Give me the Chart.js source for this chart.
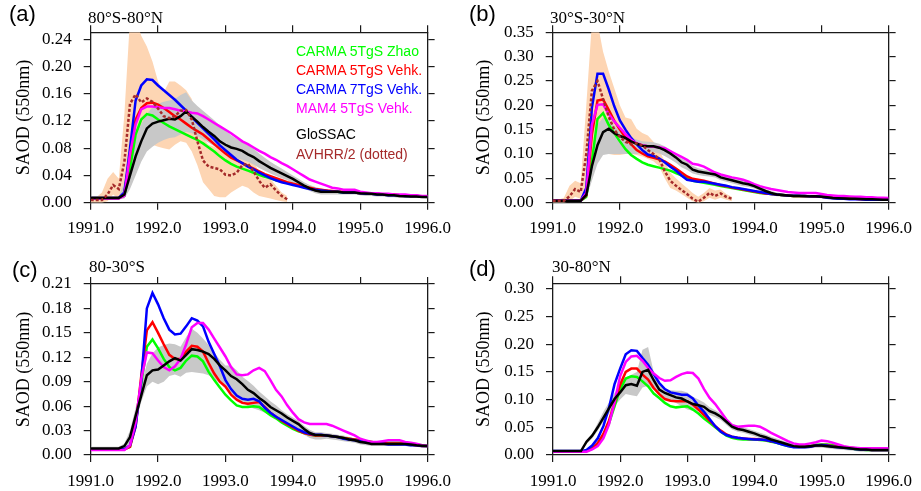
<!DOCTYPE html>
<html lang="en">
<head>
  <meta charset="UTF-8">
  <title>SAOD (550nm) 1991-1996</title>
  <script src="https://cdn.jsdelivr.net/npm/chart.js"></script>
  <style>
    body {
      margin: 0;
      background: #fff;
    }
    .page {
      position: relative;
      width: 921px;
      height: 491px;
      overflow: hidden;
    }
    .panel {
      position: absolute;
    }
    .tag {
      position: absolute;
      font: 22px "Liberation Sans", Arial, sans-serif;
      line-height: 22px;
      color: #000;
    }
    .region {
      position: absolute;
      font: 17px "Liberation Serif", "Times New Roman", serif;
      line-height: 17px;
      color: #000;
    }
    .legend {
      position: absolute;
      left: 296px;
      top: 0;
      font: 14px "Liberation Sans", Arial, sans-serif;
      line-height: 18px;
    }
    .legend div {
      position: absolute;
      white-space: nowrap;
    }
  </style>
</head>
<body>
  <div class="page">
    <div class="panel" style="left:0;top:0;width:460px;height:245px"><canvas id="ca" width="460" height="245"></canvas></div>
    <div class="panel" style="left:460px;top:0;width:461px;height:245px"><canvas id="cb" width="461" height="245"></canvas></div>
    <div class="panel" style="left:0;top:245px;width:460px;height:246px"><canvas id="cc" width="460" height="246"></canvas></div>
    <div class="panel" style="left:460px;top:245px;width:461px;height:246px"><canvas id="cd" width="461" height="246"></canvas></div>

    <div class="tag" style="left:9px;top:3px">(a)</div>
    <div class="region" style="left:88px;top:9px">80°S-80°N</div>
    <div class="tag" style="left:469px;top:3px">(b)</div>
    <div class="region" style="left:550px;top:9px">30°S-30°N</div>
    <div class="tag" style="left:12px;top:259px">(c)</div>
    <div class="region" style="left:89px;top:258px">80-30°S</div>
    <div class="tag" style="left:469px;top:258px">(d)</div>
    <div class="region" style="left:552px;top:258px">30-80°N</div>

    <div class="legend">
      <div style="top:42px;color:#00ff00">CARMA 5TgS Zhao</div>
      <div style="top:61px;color:#ff0000">CARMA 5TgS Vehk.</div>
      <div style="top:80px;color:#0000ff">CARMA 7TgS Vehk.</div>
      <div style="top:99px;color:#ff00ff">MAM4 5TgS Vehk.</div>
      <div style="top:125px;color:#000000">GloSSAC</div>
      <div style="top:145px;color:#a52a2a">AVHRR/2 (dotted)</div>
    </div>
  </div>

  <script>
    // monthly time axis, Jan 1991 .. Jan 1996
    const months = [];
    for (let i = 0; i <= 60; i++) months.push(1991 + i / 12);

    // ---- (a) 80S-80N ----
    const aGreen = [0.007,0.007,0.007,0.007,0.007,0.007,
      0.010,0.050,0.100,0.122,0.130,0.128,0.122,0.117,0.112,0.108,
      0.104,0.100,0.096,0.092,0.087,0.081,0.075,0.068,0.062,0.057,
      0.053,0.050,0.047,0.044,0.041,0.038,0.036,0.033,0.031,0.029,
      0.027,0.025,0.023,0.021,0.019,0.018,0.017,0.016,0.016,0.015,
      0.015,0.015,0.014,0.014,0.013,0.013,0.012,0.012,0.012,0.011,
      0.011,0.010,0.010,0.009,0.009];
    const aRed = [0.007,0.007,0.007,0.007,0.007,0.007,
      0.014,0.070,0.122,0.139,0.146,0.147,0.144,0.139,0.133,0.127,
      0.122,0.116,0.110,0.105,0.100,0.093,0.086,0.079,0.072,0.066,
      0.062,0.058,0.054,0.050,0.046,0.042,0.039,0.036,0.033,0.030,
      0.028,0.026,0.024,0.022,0.020,0.019,0.018,0.017,0.016,0.016,
      0.015,0.015,0.014,0.014,0.013,0.013,0.012,0.012,0.012,0.011,
      0.011,0.010,0.010,0.009,0.009];
    const aBlue = [0.007,0.007,0.007,0.007,0.007,0.007,
      0.015,0.080,0.150,0.172,0.181,0.180,0.172,0.165,0.158,0.151,
      0.143,0.135,0.126,0.117,0.109,0.101,0.093,0.084,0.077,0.070,
      0.063,0.058,0.053,0.049,0.044,0.040,0.036,0.033,0.030,0.028,
      0.026,0.024,0.022,0.020,0.019,0.018,0.017,0.016,0.016,0.015,
      0.015,0.015,0.014,0.013,0.013,0.012,0.012,0.011,0.011,0.011,
      0.010,0.010,0.010,0.009,0.009];
    const aMagenta = [0.006,0.006,0.006,0.006,0.006,0.006,
      0.010,0.072,0.115,0.137,0.141,0.141,0.140,0.139,0.139,0.137,
      0.135,0.134,0.132,0.131,0.127,0.122,0.117,0.112,0.107,0.102,
      0.096,0.090,0.086,0.081,0.076,0.072,0.067,0.063,0.058,0.054,
      0.049,0.044,0.039,0.034,0.031,0.028,0.025,0.022,0.021,0.019,
      0.019,0.019,0.016,0.015,0.014,0.014,0.013,0.013,0.012,0.012,
      0.012,0.011,0.011,0.010,0.010];
    const aBlack = [0.007,0.007,0.007,0.007,0.007,0.007,
      0.012,0.040,0.068,0.090,0.109,0.116,0.119,0.121,0.123,0.122,
      0.127,0.134,0.126,0.119,0.111,0.104,0.098,0.090,0.085,0.081,
      0.079,0.076,0.071,0.067,0.061,0.056,0.051,0.047,0.043,0.039,
      0.035,0.030,0.025,0.021,0.018,0.016,0.016,0.016,0.016,0.015,
      0.015,0.015,0.014,0.0135,0.013,0.012,0.012,0.011,0.011,0.010,
      0.0095,0.009,0.009,0.0085,0.0083];
    const aGrayHi = [0.009,0.009,0.009,0.009,0.009,0.009,
      0.030,0.065,0.095,0.115,0.130,0.140,0.145,0.148,0.150,0.152,
      0.158,0.162,0.150,0.142,0.135,0.128,0.121,0.113,0.106,0.099,
      0.094,0.089,0.085,0.079,0.072,0.066,0.060,0.055,0.050,0.045,
      0.040,0.035,0.030,0.026,0.023,0.021,0.019,0.018,0.018,0.018,
      0.018,0.018,0.016,0.015,0.014,0.014,0.014,0.013,0.012,0.012,
      0.012,0.012,0.011,0.011,0.011];
    const aGrayLo = [0.005,0.005,0.005,0.005,0.005,0.005,
      0.006,0.020,0.040,0.060,0.075,0.082,0.088,0.092,0.095,0.096,
      0.100,0.104,0.102,0.098,0.093,0.088,0.083,0.077,0.071,0.066,
      0.065,0.063,0.060,0.056,0.051,0.047,0.043,0.039,0.036,0.033,
      0.029,0.025,0.021,0.017,0.014,0.012,0.012,0.012,0.012,0.012,
      0.012,0.012,0.011,0.010,0.010,0.009,0.009,0.008,0.008,0.007,
      0.007,0.007,0.007,0.007,0.006];
    const aAvhrr = [0.004,0.004,0.004,0.012,0.026,0.020,0.060,0.145,0.159,0.147,
      0.153,0.148,0.138,0.127,0.124,0.127,0.135,0.136,0.122,0.090,
      0.062,0.053,0.051,0.049,0.041,0.040,0.044,0.055,0.057,0.046,
      0.032,0.022,0.027,0.018,0.010,0.005];
    const aAvhrrHi = [0.006,0.008,0.015,0.035,0.045,0.035,0.130,0.270,0.270,0.245,
      0.229,0.207,0.178,0.162,0.178,0.178,0.172,0.165,0.152,0.125,
      0.095,0.085,0.082,0.078,0.070,0.065,0.070,0.075,0.070,0.060,
      0.045,0.035,0.035,0.025,0.015,0.010];
    const aAvhrrLo = [0.000,0.000,0.000,0.002,0.012,0.005,0.015,0.040,0.070,0.085,
      0.087,0.085,0.082,0.080,0.078,0.085,0.090,0.088,0.075,0.055,
      0.030,0.020,0.010,0.008,0.008,0.015,0.020,0.025,0.022,0.015,
      0.010,0.008,0.006,0.004,0.002,0.001];

    // ---- (b) 30S-30N ----
    const bGreen = [0.004,0.004,0.004,0.004,0.004,0.004,
      0.012,0.085,0.172,0.184,0.160,0.143,0.126,0.110,0.098,0.090,
      0.083,0.078,0.075,0.072,0.069,0.066,0.061,0.056,0.051,0.045,
      0.043,0.041,0.039,0.037,0.034,0.032,0.030,0.028,0.026,0.024,
      0.022,0.020,0.019,0.018,0.017,0.016,0.015,0.014,0.014,0.013,
      0.013,0.012,0.012,0.012,0.011,0.010,0.009,0.009,0.008,0.008,
      0.007,0.007,0.007,0.006,0.006];
    const bRed = [0.004,0.004,0.004,0.004,0.004,0.004,
      0.015,0.140,0.210,0.212,0.191,0.168,0.150,0.134,0.120,0.108,
      0.101,0.095,0.092,0.089,0.085,0.078,0.070,0.062,0.054,0.049,
      0.047,0.045,0.042,0.039,0.036,0.034,0.031,0.029,0.027,0.025,
      0.023,0.021,0.019,0.018,0.017,0.016,0.015,0.014,0.014,0.013,
      0.013,0.012,0.012,0.011,0.010,0.009,0.009,0.008,0.008,0.007,
      0.007,0.007,0.006,0.006,0.006];
    const bBlue = [0.004,0.004,0.004,0.004,0.004,0.004,
      0.030,0.195,0.265,0.265,0.233,0.198,0.169,0.150,0.133,0.120,
      0.108,0.099,0.096,0.091,0.083,0.074,0.066,0.056,0.047,0.045,
      0.043,0.043,0.041,0.039,0.037,0.035,0.032,0.030,0.028,0.026,
      0.024,0.022,0.020,0.018,0.017,0.016,0.015,0.0145,0.0145,0.014,
      0.013,0.013,0.012,0.010,0.009,0.008,0.008,0.007,0.007,0.007,
      0.006,0.006,0.006,0.006,0.006];
    const bMagenta = [0.004,0.004,0.004,0.004,0.004,0.004,
      0.020,0.160,0.201,0.202,0.182,0.167,0.154,0.141,0.129,0.122,
      0.118,0.116,0.115,0.114,0.112,0.106,0.100,0.094,0.088,0.080,
      0.078,0.074,0.068,0.062,0.058,0.055,0.052,0.050,0.047,0.043,
      0.038,0.034,0.031,0.028,0.026,0.024,0.022,0.021,0.020,0.020,
      0.020,0.020,0.018,0.016,0.015,0.014,0.014,0.013,0.012,0.012,
      0.011,0.011,0.010,0.010,0.0095];
    const bBlack = [0.004,0.004,0.004,0.004,0.004,0.004,
      0.016,0.075,0.118,0.145,0.152,0.143,0.137,0.133,0.126,0.121,
      0.117,0.116,0.116,0.113,0.108,0.101,0.093,0.083,0.078,0.068,
      0.064,0.062,0.060,0.058,0.052,0.049,0.046,0.043,0.040,0.038,
      0.034,0.029,0.024,0.020,0.017,0.016,0.015,0.014,0.014,0.014,
      0.013,0.013,0.012,0.011,0.0096,0.009,0.0085,0.008,0.008,0.0075,
      0.007,0.007,0.0065,0.006,0.006];
    const bGrayHi = [0.006,0.006,0.006,0.006,0.006,0.006,
      0.025,0.100,0.160,0.175,0.172,0.158,0.148,0.140,0.134,0.130,
      0.126,0.125,0.124,0.121,0.116,0.109,0.100,0.091,0.085,0.076,
      0.071,0.068,0.066,0.064,0.058,0.055,0.052,0.049,0.046,0.043,
      0.039,0.034,0.028,0.024,0.021,0.019,0.018,0.017,0.017,0.017,
      0.016,0.016,0.015,0.014,0.012,0.011,0.011,0.010,0.010,0.010,
      0.009,0.009,0.009,0.009,0.009];
    const bGrayLo = [0.003,0.003,0.003,0.003,0.003,0.003,
      0.008,0.045,0.080,0.098,0.100,0.100,0.100,0.100,0.100,0.100,
      0.102,0.104,0.104,0.101,0.096,0.089,0.082,0.073,0.067,0.060,
      0.057,0.055,0.054,0.052,0.046,0.043,0.040,0.037,0.034,0.032,
      0.029,0.024,0.020,0.016,0.013,0.012,0.012,0.011,0.011,0.011,
      0.010,0.010,0.009,0.008,0.007,0.007,0.006,0.006,0.006,0.005,
      0.005,0.005,0.004,0.004,0.004];
    const bAvhrr = [0.004,0.004,0.004,0.013,0.028,0.022,0.100,0.230,0.250,0.213,
      0.177,0.150,0.135,0.125,0.120,0.122,0.118,0.108,0.100,0.090,
      0.065,0.045,0.035,0.026,0.018,0.008,0.002,0.010,0.020,0.014,
      0.019,0.012,0.008];
    const bAvhrrHi = [0.005,0.006,0.010,0.035,0.045,0.040,0.200,0.370,0.370,0.310,
      0.270,0.235,0.200,0.175,0.172,0.152,0.143,0.138,0.125,0.108,
      0.085,0.062,0.050,0.040,0.030,0.020,0.012,0.020,0.030,0.025,
      0.027,0.018,0.012];
    const bAvhrrLo = [0.000,0.000,0.000,0.003,0.012,0.008,0.030,0.080,0.100,0.100,
      0.100,0.098,0.098,0.100,0.100,0.098,0.095,0.090,0.085,0.075,
      0.050,0.030,0.025,0.018,0.010,0.003,0.000,0.003,0.010,0.006,
      0.010,0.006,0.003];

    // ---- (c) 80-30S ----
    const cGreen = [0.007,0.007,0.007,0.007,0.007,0.007,0.007,
      0.010,0.040,0.087,0.133,0.142,0.131,0.118,0.108,0.104,
      0.107,0.116,0.122,0.121,0.115,0.102,0.092,0.083,0.074,0.067,
      0.061,0.059,0.059,0.060,0.059,0.054,0.049,0.045,0.040,0.036,
      0.032,0.029,0.027,0.025,0.024,0.024,0.024,0.023,0.022,0.021,
      0.020,0.019,0.018,0.017,0.016,0.015,0.015,0.015,0.015,0.015,
      0.015,0.014,0.013,0.012,0.011];
    const cRed = [0.007,0.007,0.007,0.007,0.007,0.007,0.007,
      0.010,0.035,0.097,0.153,0.163,0.150,0.136,0.123,0.118,
      0.118,0.127,0.134,0.133,0.127,0.113,0.100,0.090,0.084,0.074,
      0.068,0.064,0.063,0.064,0.065,0.059,0.052,0.047,0.042,0.038,
      0.034,0.030,0.027,0.025,0.024,0.024,0.024,0.023,0.022,0.021,
      0.020,0.019,0.018,0.017,0.016,0.015,0.015,0.014,0.014,0.014,
      0.014,0.013,0.012,0.011,0.011];
    const cBlue = [0.007,0.007,0.007,0.007,0.007,0.007,0.007,
      0.012,0.035,0.090,0.180,0.199,0.185,0.168,0.154,0.148,
      0.149,0.158,0.168,0.165,0.158,0.139,0.124,0.109,0.092,0.081,
      0.073,0.069,0.068,0.069,0.066,0.058,0.052,0.047,0.043,0.039,
      0.035,0.031,0.028,0.026,0.025,0.025,0.024,0.023,0.022,0.020,
      0.019,0.018,0.017,0.016,0.015,0.014,0.014,0.013,0.013,0.013,
      0.013,0.012,0.012,0.011,0.011];
    const cMagenta = [0.006,0.006,0.006,0.006,0.006,0.006,0.006,
      0.012,0.040,0.093,0.126,0.125,0.116,0.108,0.104,0.109,
      0.118,0.136,0.157,0.162,0.162,0.154,0.143,0.132,0.121,0.108,
      0.099,0.098,0.099,0.104,0.107,0.103,0.092,0.080,0.072,0.061,
      0.052,0.044,0.040,0.038,0.038,0.038,0.038,0.036,0.033,0.030,
      0.027,0.024,0.020,0.018,0.016,0.016,0.017,0.018,0.018,0.018,
      0.016,0.015,0.014,0.012,0.011];
    const cBlack = [0.008,0.008,0.008,0.008,0.008,0.008,
      0.011,0.022,0.048,0.073,0.098,0.104,0.105,0.110,0.115,0.119,
      0.116,0.123,0.130,0.129,0.127,0.124,0.118,0.110,0.104,0.097,
      0.093,0.087,0.080,0.076,0.070,0.065,0.059,0.055,0.051,0.046,
      0.042,0.038,0.032,0.027,0.0245,0.0245,0.024,0.023,0.022,0.021,
      0.019,0.018,0.016,0.015,0.0135,0.0135,0.0135,0.0135,0.0135,0.0135,
      0.0135,0.013,0.012,0.0115,0.011];
    const cGrayHi = [0.010,0.010,0.010,0.010,0.010,0.010,
      0.014,0.030,0.058,0.085,0.112,0.125,0.132,0.135,0.137,0.136,
      0.133,0.145,0.155,0.150,0.143,0.135,0.126,0.117,0.110,0.110,
      0.104,0.096,0.091,0.085,0.078,0.072,0.066,0.061,0.055,0.050,
      0.046,0.042,0.036,0.031,0.028,0.028,0.027,0.026,0.025,0.024,
      0.022,0.020,0.018,0.017,0.016,0.016,0.016,0.016,0.016,0.016,
      0.016,0.015,0.014,0.013,0.012];
    const cGrayLo = [0.007,0.007,0.007,0.007,0.007,0.007,
      0.008,0.015,0.040,0.065,0.084,0.090,0.087,0.090,0.097,0.099,
      0.096,0.101,0.102,0.101,0.100,0.098,0.093,0.088,0.082,0.076,
      0.070,0.065,0.060,0.057,0.055,0.052,0.048,0.045,0.040,0.036,
      0.032,0.028,0.025,0.021,0.019,0.019,0.020,0.019,0.018,0.017,
      0.016,0.015,0.013,0.012,0.011,0.011,0.011,0.011,0.011,0.011,
      0.011,0.010,0.010,0.009,0.009];

    // ---- (d) 30-80N ----
    const dGreen = [0.006,0.006,0.006,0.006,0.006,0.006,
      0.007,0.012,0.020,0.035,0.057,0.088,0.119,0.138,0.142,0.141,
      0.133,0.124,0.111,0.103,0.094,0.088,0.086,0.087,0.088,0.082,
      0.075,0.066,0.058,0.050,0.042,0.035,0.031,0.029,0.028,0.028,
      0.028,0.027,0.026,0.024,0.022,0.019,0.016,0.015,0.015,0.015,
      0.016,0.018,0.019,0.019,0.018,0.016,0.014,0.012,0.011,0.010,
      0.009,0.009,0.009,0.009,0.009];
    const dRed = [0.006,0.006,0.006,0.006,0.006,0.006,
      0.007,0.012,0.022,0.038,0.062,0.094,0.127,0.150,0.156,0.156,
      0.145,0.136,0.121,0.110,0.101,0.098,0.097,0.097,0.097,0.091,
      0.082,0.072,0.062,0.052,0.044,0.037,0.033,0.031,0.030,0.029,
      0.029,0.028,0.027,0.025,0.023,0.020,0.017,0.015,0.015,0.015,
      0.016,0.017,0.018,0.018,0.016,0.015,0.014,0.013,0.012,0.011,
      0.010,0.009,0.009,0.009,0.009];
    const dBlue = [0.007,0.007,0.007,0.007,0.007,0.007,
      0.009,0.017,0.030,0.052,0.085,0.128,0.156,0.182,0.189,0.188,
      0.175,0.163,0.146,0.130,0.119,0.113,0.111,0.109,0.109,0.102,
      0.089,0.078,0.065,0.052,0.042,0.036,0.033,0.031,0.030,0.029,
      0.028,0.028,0.027,0.025,0.022,0.019,0.016,0.014,0.014,0.014,
      0.015,0.017,0.018,0.017,0.015,0.014,0.013,0.012,0.011,0.010,
      0.010,0.009,0.009,0.009,0.009];
    const dMagenta = [0.006,0.006,0.006,0.006,0.006,0.006,
      0.006,0.010,0.016,0.030,0.055,0.095,0.142,0.168,0.178,0.179,
      0.170,0.157,0.147,0.139,0.134,0.135,0.141,0.146,0.149,0.148,
      0.138,0.119,0.103,0.092,0.078,0.064,0.054,0.051,0.052,0.053,
      0.053,0.051,0.046,0.040,0.035,0.030,0.025,0.021,0.019,0.019,
      0.021,0.023,0.026,0.025,0.022,0.019,0.016,0.014,0.013,0.012,
      0.012,0.012,0.012,0.012,0.012];
    const dBlack = [0.007,0.007,0.007,0.007,0.007,0.007,
      0.024,0.035,0.050,0.067,0.084,0.101,0.113,0.126,0.128,0.125,
      0.150,0.154,0.135,0.118,0.112,0.108,0.104,0.102,0.097,0.092,
      0.090,0.087,0.079,0.075,0.069,0.060,0.051,0.047,0.045,0.042,
      0.039,0.035,0.032,0.028,0.025,0.022,0.019,0.016,0.015,0.015,
      0.016,0.017,0.017,0.016,0.015,0.014,0.013,0.012,0.011,0.010,
      0.010,0.009,0.009,0.009,0.009];
    const dGrayHi = [0.008,0.008,0.008,0.008,0.008,0.008,
      0.027,0.038,0.058,0.078,0.095,0.112,0.125,0.140,0.145,0.150,
      0.190,0.195,0.150,0.128,0.120,0.117,0.116,0.116,0.113,0.105,
      0.100,0.095,0.086,0.081,0.075,0.066,0.057,0.053,0.050,0.047,
      0.044,0.040,0.037,0.033,0.030,0.026,0.023,0.020,0.019,0.019,
      0.020,0.021,0.021,0.020,0.019,0.018,0.017,0.016,0.015,0.014,
      0.013,0.012,0.012,0.012,0.012];
    const dGrayLo = [0.006,0.006,0.006,0.006,0.006,0.006,
      0.020,0.030,0.044,0.060,0.075,0.088,0.100,0.110,0.108,0.106,
      0.122,0.125,0.118,0.108,0.103,0.099,0.094,0.088,0.082,0.080,
      0.080,0.078,0.072,0.068,0.063,0.054,0.046,0.042,0.040,0.037,
      0.034,0.030,0.027,0.023,0.020,0.018,0.015,0.012,0.011,0.011,
      0.012,0.013,0.013,0.012,0.011,0.010,0.009,0.008,0.007,0.006,
      0.006,0.006,0.006,0.006,0.006];

    const GREEN = '#00ff00', RED = '#ff0000', BLUE = '#0000ff', MAGENTA = '#ff00ff';
    const BLACK = '#000000', BROWN = '#a52a2a', GRAY = '#c8c8c8', PEACH = '#fdd5b3';
    const FRAME = '#1a1a1a';
    const serif = '"Liberation Serif", "Times New Roman", serif';

    function pts(vals) {
      return vals.map((v, i) => ({ x: months[i], y: v }));
    }

    function line(vals, color, order, dash) {
      return {
        data: pts(vals), borderColor: color, borderWidth: 2.5, pointRadius: 0,
        fill: false, order: order, borderDash: dash || [], tension: 0
      };
    }

    function band(hi, lo, color, order) {
      return [
        { data: pts(hi), borderColor: 'rgba(0,0,0,0)', borderWidth: 0, backgroundColor: color,
          pointRadius: 0, fill: '+1', order: order },
        { data: pts(lo), borderColor: 'rgba(0,0,0,0)', borderWidth: 0,
          pointRadius: 0, fill: false, order: order }
      ];
    }

    function makeChart(id, box, ymax, step, datasets) {
      const tickGrid = { drawOnChartArea: false, drawTicks: true, tickLength: 7, color: FRAME, lineWidth: 1.2 };
      const border = { display: true, color: FRAME, width: 1.3 };
      new Chart(document.getElementById(id), {
        type: 'line',
        data: { datasets: datasets },
        options: {
          responsive: false,
          animation: false,
          events: [],
          layout: { padding: 0 },
          plugins: { legend: { display: false }, tooltip: { enabled: false } },
          scales: {
            x: {
              type: 'linear', position: 'bottom', min: 1991, max: 1996,
              ticks: { stepSize: 1, color: '#000', padding: 9, maxRotation: 0,
                font: { family: serif, size: 17 }, callback: v => v.toFixed(1) },
              grid: tickGrid, border: border,
              afterFit: s => { s.height = box.h - box.bottom; }
            },
            x2: {
              type: 'linear', position: 'top', min: 1991, max: 1996,
              ticks: { stepSize: 1, display: false },
              grid: tickGrid, border: border,
              afterFit: s => { s.height = box.top; }
            },
            y: {
              type: 'linear', position: 'left', min: 0, max: ymax,
              ticks: { stepSize: step, includeBounds: false, color: '#000', padding: 12,
                font: { family: serif, size: 17 }, callback: v => v.toFixed(2) },
              title: { display: true, text: 'SAOD (550nm)', color: '#000',
                font: { family: serif, size: 18 }, padding: { top: 13, bottom: 0 } },
              grid: tickGrid, border: border,
              afterFit: s => { s.width = box.left; }
            },
            y2: {
              type: 'linear', position: 'right', min: 0, max: ymax,
              ticks: { stepSize: step, includeBounds: false, display: false },
              grid: tickGrid, border: border,
              afterFit: s => { s.width = box.w - box.right; }
            }
          }
        }
      });
    }

    makeChart('ca', { w: 460, h: 245, left: 90.7, right: 433.3, top: 32.3, bottom: 202.7 }, 0.25, 0.04, [
      line(aAvhrr, BROWN, 1, [3, 2]),
      line(aBlack, BLACK, 2),
      line(aMagenta, MAGENTA, 3),
      line(aBlue, BLUE, 4),
      line(aRed, RED, 5),
      line(aGreen, GREEN, 6),
      ...band(aGrayHi, aGrayLo, GRAY, 8),
      ...band(aAvhrrHi, aAvhrrLo, PEACH, 9)
    ]);

    makeChart('cb', { w: 461, h: 245, left: 92.7, right: 435, top: 32.3, bottom: 202.7 }, 0.35, 0.05, [
      line(bAvhrr, BROWN, 1, [3, 2]),
      line(bBlack, BLACK, 2),
      line(bMagenta, MAGENTA, 3),
      line(bBlue, BLUE, 4),
      line(bRed, RED, 5),
      line(bGreen, GREEN, 6),
      ...band(bGrayHi, bGrayLo, GRAY, 8),
      ...band(bAvhrrHi, bAvhrrLo, PEACH, 9)
    ]);

    makeChart('cc', { w: 460, h: 246, left: 90.7, right: 433.3, top: 39, bottom: 210 }, 0.21, 0.03, [
      line(cBlack, BLACK, 2),
      line(cMagenta, MAGENTA, 3),
      line(cBlue, BLUE, 4),
      line(cRed, RED, 5),
      line(cGreen, GREEN, 6),
      ...band(cGrayHi, cGrayLo, GRAY, 8)
    ]);

    makeChart('cd', { w: 461, h: 246, left: 93, right: 435, top: 38.3, bottom: 210 }, 0.31, 0.05, [
      line(dBlack, BLACK, 2),
      line(dMagenta, MAGENTA, 3),
      line(dBlue, BLUE, 4),
      line(dRed, RED, 5),
      line(dGreen, GREEN, 6),
      ...band(dGrayHi, dGrayLo, GRAY, 8)
    ]);
  </script>
</body>
</html>
